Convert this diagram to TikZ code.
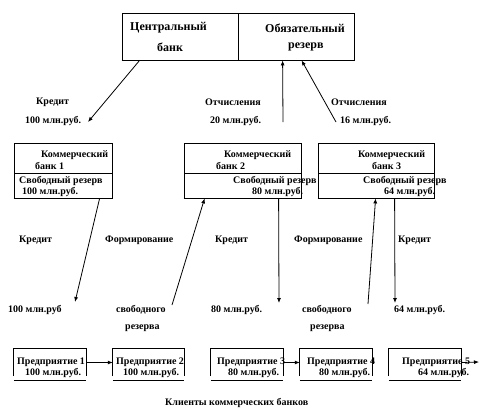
\documentclass[tikz,border=0pt]{standalone}
\usepackage{fontspec}
\setmainfont{Liberation Serif}
\usetikzlibrary{arrows.meta}
\begin{document}
\begin{tikzpicture}[x=1pt, y=-1pt,
        box/.style={draw, line width=0.8pt, inner sep=0pt},
        firm/.style={inner sep=0pt, minimum height=27pt},
        txt/.style={anchor=west, inner sep=0pt, font=\bfseries\fontsize{10}{11}\selectfont},
        big/.style={txt, font=\bfseries\fontsize{12}{13}\selectfont},
        arr/.style={draw, line width=0.8pt, -{Latex[length=5pt,width=4pt]}}]
    \useasboundingbox (0,0) rectangle (488,416);
    % central bank
    \node[box, minimum width=116pt, minimum height=47pt] (cb) at (180,36.5) {};
    \node[box, minimum width=116pt, minimum height=47pt] (res) at (296,36.5) {};
    \draw[line width=1.6pt] (cb.south west) -- (res.south east);
    \node[big] (cb1) at (130,28) {Центральный};
    \node[big] (cb2) at (157,47) {банк};
    \node[big] (rs1) at (265,28) {Обязательный};
    \node[big] (rs2) at (288,47) {резерв};
    % commercial banks
    \node[box, minimum width=98pt, minimum height=30pt] (bk1) at (63,158) {};
    \node[box, minimum width=98pt, minimum height=25pt] (rz1) at (63,185.5) {};
    \node[box, minimum width=117pt, minimum height=30pt] (bk2) at (242.5,158) {};
    \node[box, minimum width=117pt, minimum height=25pt] (rz2) at (242.5,185.5) {};
    \node[box, minimum width=116pt, minimum height=30pt] (bk3) at (376,158) {};
    \node[box, minimum width=116pt, minimum height=25pt] (rz3) at (376,185.5) {};
    \foreach \i in {1,2,3}
        \draw[line width=1.4pt] (rz\i.south west) -- (rz\i.south east);
    \node[txt] (b1a) at (41,155) {Коммерческий};
    \node[txt] (b1b) at (35,166) {банк 1};
    \node[txt] (b1c) at (19,181) {Свободный резерв};
    \node[txt] (b1d) at (22,192) {100 млн.руб.};
    \node[txt] (b2a) at (224,155) {Коммерческий};
    \node[txt] (b2b) at (216,166) {банк 2};
    \node[txt] (b2c) at (233,181) {Свободный резерв};
    \node[txt] (b2d) at (252,192) {80 млн.руб.};
    \node[txt] (b3a) at (358,155) {Коммерческий};
    \node[txt] (b3b) at (372,166) {банк 3};
    \node[txt] (b3c) at (363,181) {Свободный резерв};
    \node[txt] (b3d) at (384,192) {64 млн.руб.};
    % flows to and from the central bank
    \coordinate (k0) at (88,122);
    \coordinate (o1) at (283,122);
    \coordinate (o2) at (336,122);
    \draw[arr] ([xshift=18pt]cb.south west) -- (k0);
    \draw[arr] (o1) -- ([xshift=45pt]res.south west);
    \draw[arr] (o2) -- ([xshift=64pt]res.south west);
    \node[txt] (l1) at (36,102) {Кредит};
    \node[txt] (l2) at (25,121) {100 млн.руб.};
    \node[txt] (l3) at (205,102) {Отчисления};
    \node[txt] (l4) at (210,121) {20 млн.руб.};
    \node[txt] (l5) at (331,102) {Отчисления};
    \node[txt] (l6) at (340,121) {16 млн.руб.};
    % credits and reserves
    \coordinate (c1) at (75,302);
    \coordinate (f2) at (172,305);
    \coordinate (c2) at (279,303);
    \coordinate (f3) at (368,304);
    \coordinate (c3) at (395,303);
    \draw[arr] ([xshift=86pt]rz1.south west) -- (c1);
    \draw[arr] (f2) -- ([xshift=21pt]rz2.south west);
    \draw[arr] ([xshift=95pt]rz2.south west) -- (c2);
    \draw[arr] (f3) -- ([xshift=58pt]rz3.south west);
    \draw[arr] ([xshift=77pt]rz3.south west) -- (c3);
    \node[txt] (m1) at (19,240) {Кредит};
    \node[txt] (m2) at (105,240) {Формирование};
    \node[txt] (m3) at (215,240) {Кредит};
    \node[txt] (m4) at (294,240) {Формирование};
    \node[txt] (m5) at (398,240) {Кредит};
    \node[txt] (n1) at (8,310) {100 млн.руб};
    \node[txt] (n2) at (116,310) {свободного};
    \node[txt] (n3) at (125,328) {резерва};
    \node[txt] (n4) at (211,310) {80 млн.руб.};
    \node[txt] (n5) at (302,310) {свободного};
    \node[txt] (n6) at (310,328) {резерва};
    \node[txt] (n7) at (394,310) {64 млн.руб.};
    % clients
    \foreach \i/\x/\w in {1/50/72, 2/148.5/71, 3/247/72, 4/336/72, 5/425/72}
        \node[firm, minimum width=\w pt] (e\i) at (\x,362.5) {};
    \foreach \i in {1,...,5}
        \draw[line width=0.8pt] (e\i.south west) -- (e\i.north west) -- (e\i.north east) -- (e\i.south east)
            ([yshift=-4pt]e\i.south west) -- ([yshift=-4pt]e\i.south east);
    \node[txt] (p1) at (17,362) {Предприятие 1};
    \node[txt] (q1) at (25,373) {100 млн.руб.};
    \node[txt] (p2) at (116,362) {Предприятие 2};
    \node[txt] (q2) at (123,373) {100 млн.руб.};
    \node[txt] (p3) at (217,362) {Предприятие 3};
    \node[txt] (q3) at (228,373) {80 млн.руб.};
    \node[txt] (p4) at (307,362) {Предприятие 4};
    \node[txt] (q4) at (319,373) {80 млн.руб.};
    \node[txt] (p5) at (402,362) {Предприятие 5};
    \node[txt] (q5) at (418,373) {64 млн.руб.};
    \coordinate (out) at (479,362);
    \draw[arr] (e1.east) -- (e2.west);
    \draw[arr] (e3.east) -- (e4.west);
    \draw[arr] (e5.east) -- (out);
    \node[txt] (cap) at (165,403) {Клиенты коммерческих банков};
\end{tikzpicture}
\end{document}
